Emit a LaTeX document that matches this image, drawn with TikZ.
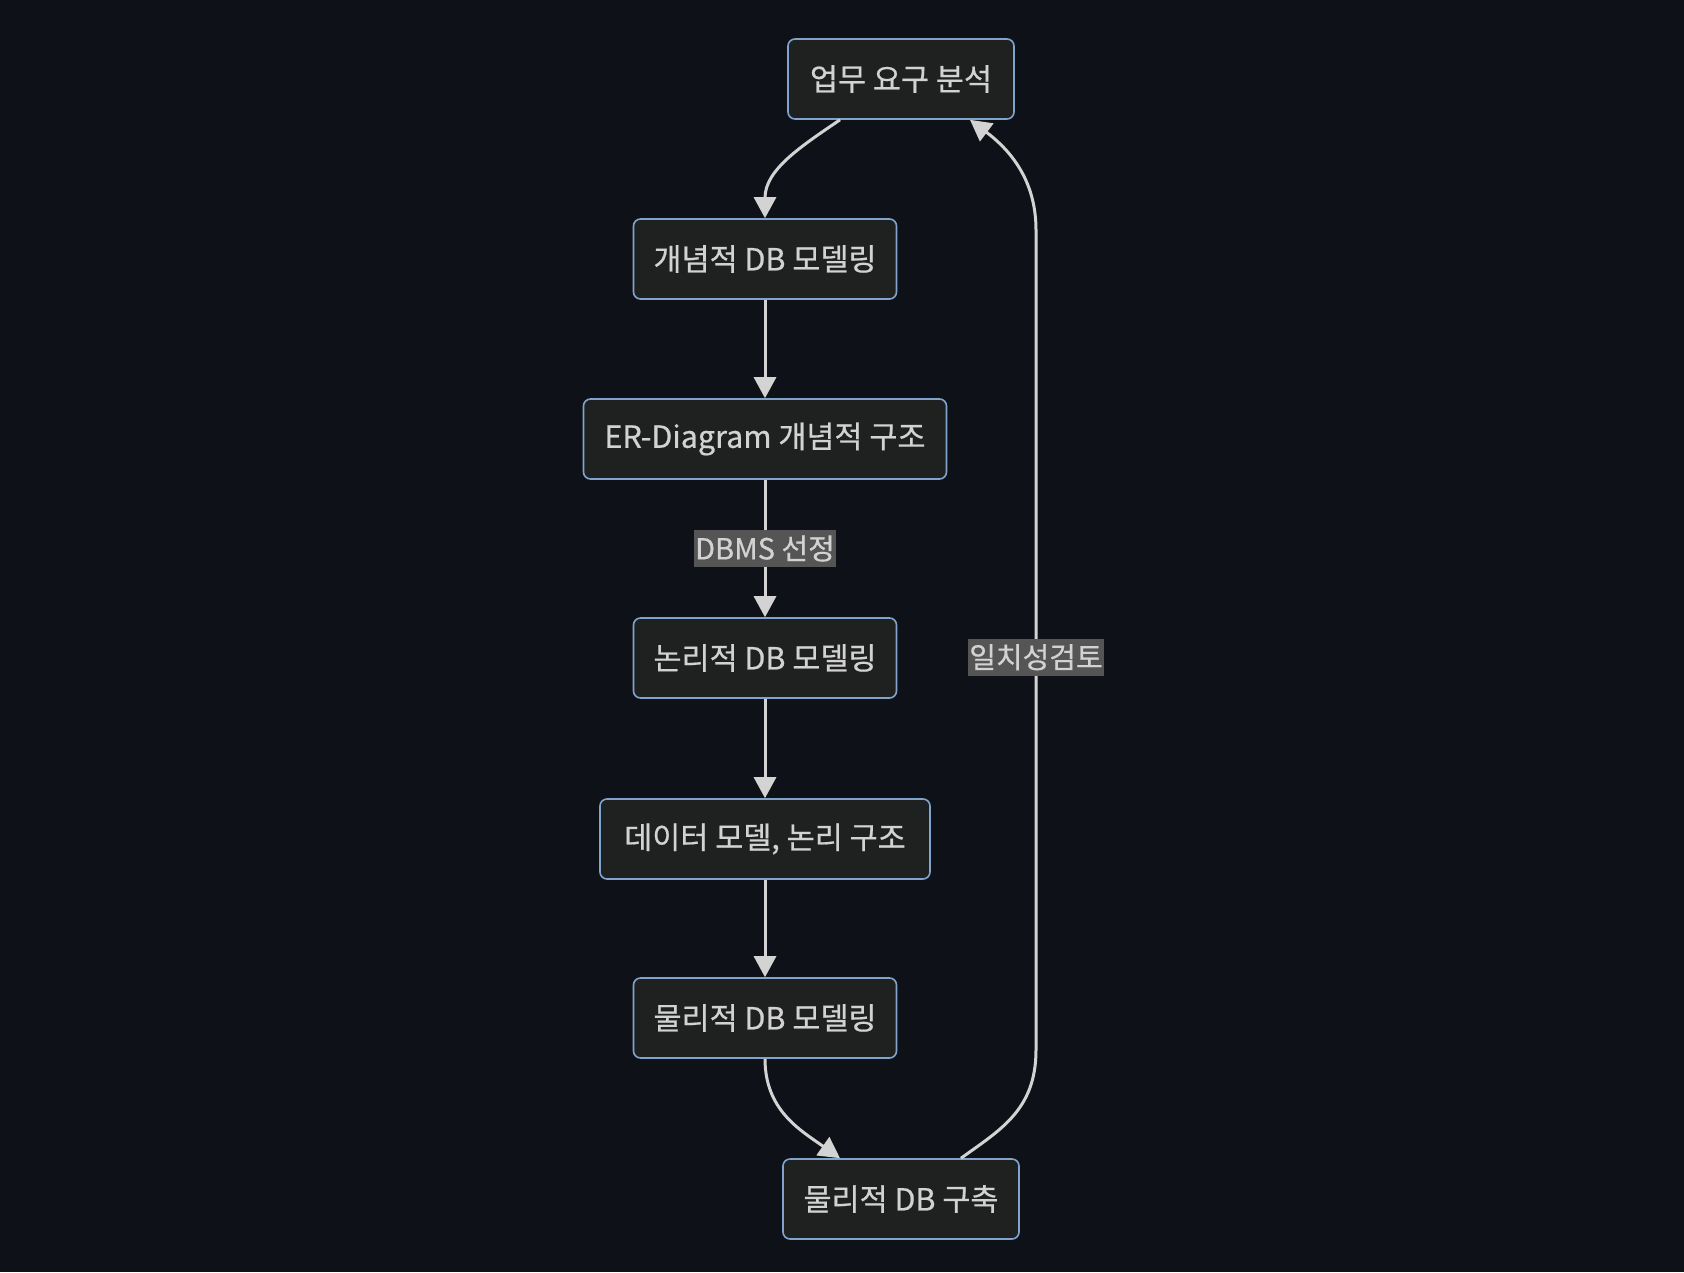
\documentclass[tikz,border=0pt]{standalone}
\usepackage{fontspec}
\setmainfont{Noto Sans CJK KR}
\newfontfamily\dfont{Noto Sans CJK KR}[FakeBold=0.6]
\usetikzlibrary{arrows.meta}
\definecolor{bg}{HTML}{0E1117}
\definecolor{nodefill}{HTML}{1F2020}
\definecolor{nodeline}{HTML}{81A4CD}
\definecolor{edgecol}{HTML}{D3D3D3}
\definecolor{txt}{HTML}{D2D2D2}
\definecolor{lblbg}{HTML}{555555}
\begin{document}
\begin{tikzpicture}[x=1pt,y=-1pt,
  box/.style={draw=nodeline, line width=1.6pt, fill=nodefill, rounded corners=7pt,
    minimum height=80pt, text=txt, font=\dfont\fontsize{30.5}{36}\selectfont, inner sep=0pt},
  edge/.style={draw=edgecol, line width=3pt, -{Triangle[length=21pt,width=22pt]}},
  lbl/.style={fill=lblbg, text=txt, font=\dfont\fontsize{29}{34}\selectfont, inner sep=1pt,
    minimum height=37pt}]
\fill[bg] (0,0) rectangle (1684,1272);
\useasboundingbox (0,0) rectangle (1684,1272);

\node[box, minimum width=226pt] (n1) at (901,79) {업무 요구 분석};
\node[box, minimum width=263pt] (n2) at (765,259) {개념적 DB 모델링};
\node[box, minimum width=363pt] (n3) at (765,439) {ER-Diagram 개념적 구조};
\node[box, minimum width=263pt] (n4) at (765,658) {논리적 DB 모델링};
\node[box, minimum width=330pt] (n5) at (765,839) {데이터 모델, 논리 구조};
\node[box, minimum width=263pt] (n6) at (765,1018) {물리적 DB 모델링};
\node[box, minimum width=236pt] (n7) at (901,1199) {물리적 DB 구축};

\draw[edge] ([xshift=-61pt]n1.south) .. controls (800,147) and (765,170) .. (n2.north);
\draw[edge] (n2) -- (n3);
\draw[edge] (n3) -- node[lbl] {DBMS 선정} (n4);
\draw[edge] (n4) -- (n5);
\draw[edge] (n5) -- (n6);
\draw[edge] (n6.south) .. controls (765,1110) and (800,1130) .. ([xshift=-61pt]n7.north);
\draw[edge] ([xshift=60pt]n7.north) .. controls (1000,1130) and (1036,1110) .. (1036,1050)
  -- node[lbl, pos=0.479] {일치성검토} (1036,230)
  .. controls (1036,180) and (1010,150) .. ([xshift=69pt]n1.south);
\end{tikzpicture}
\end{document}
